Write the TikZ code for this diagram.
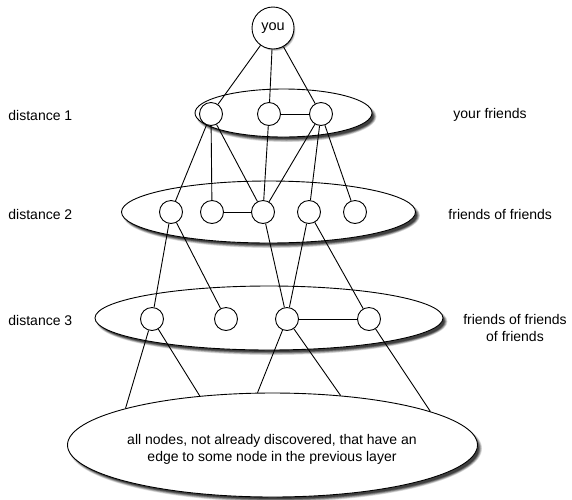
\documentclass[tikz,border=0pt]{standalone}
\usepackage{fontspec}
\setmainfont{Liberation Sans}
\usetikzlibrary{shapes.geometric}
\newcommand{\softshadow}[4]{%
  \foreach \d/\g in {1.5/12,0.8/28,0/45,-0.8/62,-1.6/75}{%
    \fill[black!\g] (#1+3,#2+3.5) ellipse ({#3+\d} and {#4+\d});}}
\begin{document}
\begin{tikzpicture}[x=1pt,y=-1pt,
  line width=0.9pt,
  layer/.style={ellipse,draw,fill=white,inner sep=0pt},
  vtx/.style={circle,draw,fill=white,inner sep=0pt,minimum size=23pt},
  lbl/.style={font=\fontsize{14}{17}\selectfont,inner sep=0pt}]
\useasboundingbox (0,0) rectangle (572,499);
% shadows
\softshadow{283.5}{113}{88.5}{24}
\softshadow{268.5}{212}{147}{31}
\softshadow{269}{318}{174}{32}
\softshadow{272.5}{445}{205}{52}
\softshadow{272}{27}{19}{19}
% layers
\node[layer,minimum width=177pt,minimum height=48pt] (E1) at (283.5,113) {};
\node[layer,minimum width=294pt,minimum height=62pt] (E2) at (268.5,212) {};
\node[layer,minimum width=348pt,minimum height=64pt] (E3) at (269,318) {};
\node[layer,minimum width=410pt,minimum height=104pt] (E4) at (272.5,445) {};
\node[lbl,align=center] (T4) at (272,449) {all nodes, not already discovered, that have an\\edge to some node in the previous layer};
% vertices
\node[vtx,minimum size=42pt,font=\fontsize{14.5}{16}\selectfont] (you) at (273,28) {you};
\node[vtx] (a1) at (211,114) {};
\node[vtx] (b1) at (269,114) {};
\node[vtx] (c1) at (321,114) {};
\node[vtx] (a2) at (171,212) {};
\node[vtx] (b2) at (212,212) {};
\node[vtx] (c2) at (263,212) {};
\node[vtx] (d2) at (309,212) {};
\node[vtx] (e2) at (355,212) {};
\node[vtx] (a3) at (152,319) {};
\node[vtx] (b3) at (226,319) {};
\node[vtx] (c3) at (287,319) {};
\node[vtx] (d3) at (369,319) {};
% edges
\draw (you) -- (a1);
\draw (you) -- (b1);
\draw (you) -- (c1);
\draw (b1) -- (c1);
\draw (a1) -- (a2);
\draw (a1) -- (b2);
\draw (a1) -- (c2);
\draw (b1) -- (c2);
\draw (c1) -- (c2);
\draw (c1) -- (d2);
\draw (c1) -- (e2);
\draw (b2) -- (c2);
\draw (a2) -- (a3);
\draw (a2) -- (b3);
\draw (c2) -- (c3);
\draw (d2) -- (c3);
\draw (d2) -- (d3);
\draw (c3) -- (d3);
\draw (a3) -- (E4.166.5);
\draw (a3) -- (E4.146.7);
\draw (c3) -- (E4.106.6);
\draw (c3) -- (E4.36);
\draw (d3) -- (E4.12.9);
% side labels
\node[lbl,anchor=west] (L1) at (8,115) {distance 1};
\node[lbl,anchor=west] (L2) at (8,214) {distance 2};
\node[lbl,anchor=west] (L3) at (8,320) {distance 3};
\node[lbl,anchor=west] (R1) at (453,115) {your friends};
\node[lbl,anchor=west] (R2) at (448,214) {friends of friends};
\node[lbl,align=center] (R3) at (515,328) {friends of friends\\of friends};
\end{tikzpicture}
\end{document}
